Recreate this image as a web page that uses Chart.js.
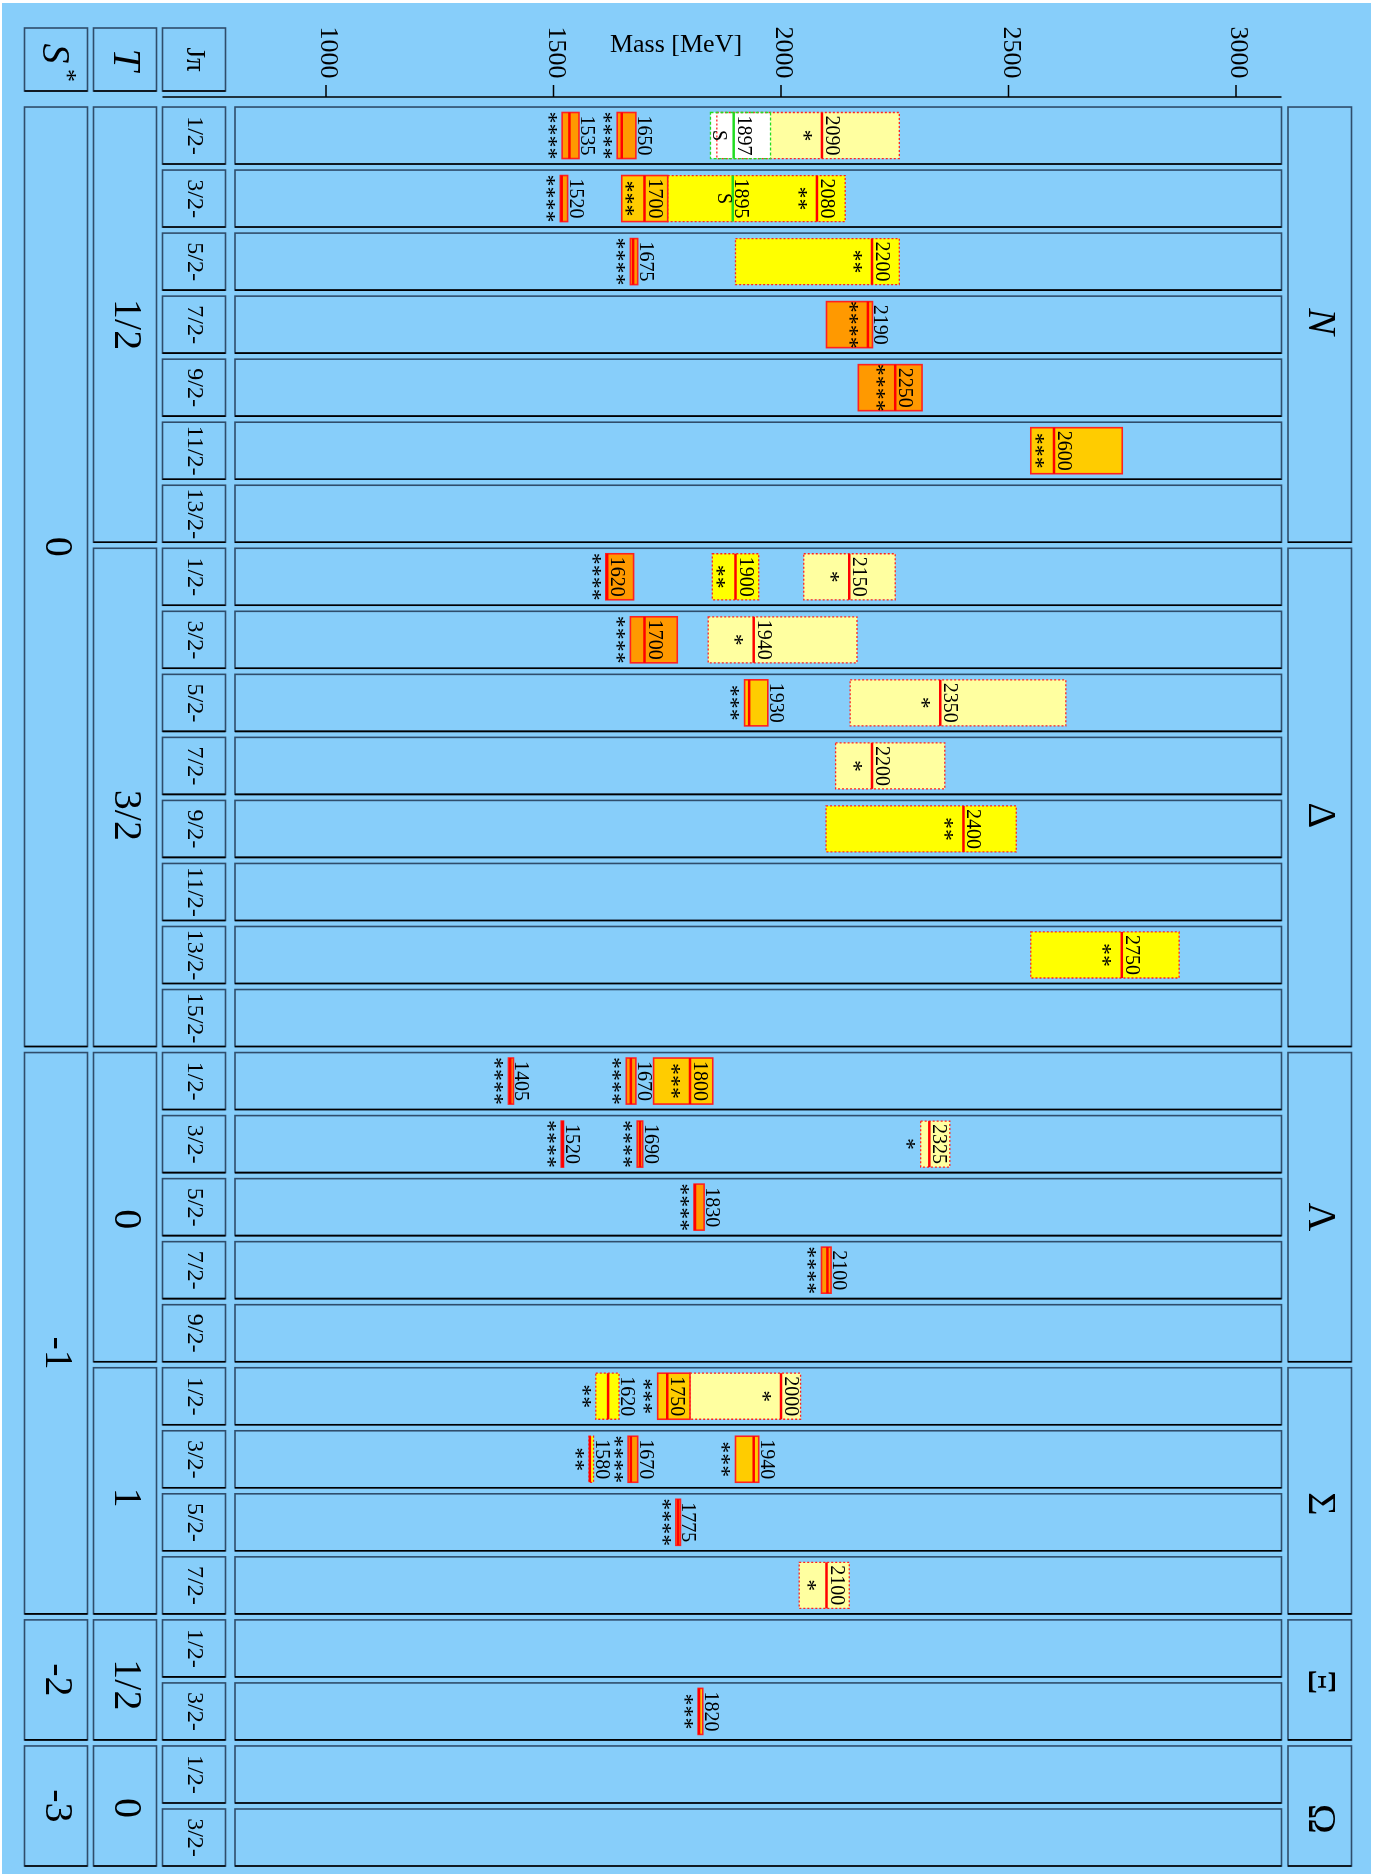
<!DOCTYPE html>
<html>
<head>
<meta charset="utf-8">
<script src="https://cdn.jsdelivr.net/npm/chart.js@4.4.1/dist/chart.umd.min.js"></script>
<style>
  html, body { margin: 0; padding: 0; background: #fff; }
  canvas { display: block; }
</style>
</head>
<body>
<canvas id="chart" width="1378" height="1874"></canvas>
<script>
// rows, top to bottom
const jpLabels = ['1/2-', '3/2-', '5/2-', '7/2-', '9/2-', '11/2-', '13/2-',
  '1/2-', '3/2-', '5/2-', '7/2-', '9/2-', '11/2-', '13/2-', '15/2-',
  '1/2-', '3/2-', '5/2-', '7/2-', '9/2-',
  '1/2-', '3/2-', '5/2-', '7/2-',
  '1/2-', '3/2-',
  '1/2-', '3/2-'];
const families = ['N', 'Δ', 'Λ', 'Σ', 'Ξ', 'Ω'];
const familyRows = [7, 8, 5, 4, 2, 2];
const isospin = ['1/2', '3/2', '0', '1', '1/2', '0'];
const strangeness = ['0', '-1', '-2', '-3'];
const strangenessRows = [15, 9, 2, 2];
const massTicks = [1000, 1500, 2000, 2500, 3000];

// resonances (row index, name, mass range, peak, rating)
const resRow = [0, 0, 0, 0, 1, 1, 1, 1, 2, 2, 3, 4, 5,
  7, 7, 7, 8, 8, 9, 9, 10, 11, 13,
  15, 15, 15, 16, 16, 16, 17, 18,
  20, 20, 20, 21, 21, 21, 22, 23, 25];
const resName = [1535, 1650, 2090, 1897, 1520, 2080, 1700, 1895, 1675, 2200, 2190, 2250, 2600,
  1620, 1900, 2150, 1700, 1940, 1930, 2350, 2200, 2400, 2750,
  1405, 1670, 1800, 1520, 1690, 2325, 1830, 2100,
  1620, 2000, 1750, 1580, 1670, 1940, 1775, 2100, 1820];
const resLow = [1519, 1640, 1859, 1845, 1515, 1751, 1650, 1894, 1669, 1900, 2100, 2170, 2549,
  1615, 1849, 2050, 1669, 1840, 1920, 2152, 2120, 2099, 2549,
  1401, 1660, 1720, 1517, 1684, 2307, 1809, 2089,
  1593, 1800, 1729, 1578, 1664, 1900, 1769, 2040, 1818];
const resHigh = [1556, 1681, 2260, 1977, 1531, 2141, 1751, 1894, 1685, 2260, 2201, 2310, 2750,
  1676, 1951, 2251, 1772, 2167, 1971, 2626, 2360, 2517, 2875,
  1412, 1681, 1850, 1522, 1696, 2371, 1831, 2110,
  1644, 2043, 1800, 1588, 1685, 1951, 1779, 2150, 1828];
const resPeak = [1535, 1650, 2090, 1896, 1518, 2079, 1700, 1894, 1675, 2200, 2191, 2251, 2600,
  1618, 1900, 2150, 1700, 1940, 1930, 2350, 2200, 2401, 2749,
  1405, 1670, 1800, 1520, 1690, 2326, 1811, 2102,
  1620, 2000, 1750, 1580, 1670, 1940, 1774, 2100, 1820];
const resRating = ['****', '****', '*', 'S', '****', '**', '***', 'S', '****', '**', '****', '****', '***',
  '****', '**', '*', '****', '*', '***', '*', '*', '**', '**',
  '****', '****', '***', '****', '****', '*', '****', '****',
  '**', '*', '***', '**', '****', '***', '****', '*', '***'];

const SERIF = '"Liberation Serif", "DejaVu Serif", serif';
const FILLS = { '****': '#ff9900', '***': '#ffcc00', '**': '#ffff00', '*': '#ffffa0', 'S': '#ffffff' };
// small vertical nudges of the group labels, as in the original figure
const shiftS = [-30, 20, 0, 0];
const shiftT = [0, 18, 12, 7, 5, 2];
const shiftF = [-3, 18, 10, 13, 2, 13];

// unique category id per row
const rowIds = [];
families.forEach((f, k) => {
  const start = familyRows.slice(0, k).reduce((a, b) => a + b, 0);
  for (let i = 0; i < familyRows[k]; i++) rowIds.push(f + ' ' + jpLabels[start + i]);
});

function vText(ctx, str, x, y, size, style, baseline, align) {
  ctx.save();
  ctx.translate(x, y);
  ctx.rotate(Math.PI / 2);
  ctx.font = (style || '') + ' ' + size + 'px ' + SERIF;
  ctx.textAlign = align || 'center';
  ctx.textBaseline = baseline || 'middle';
  ctx.fillStyle = '#000';
  ctx.fillText(str, 0, 0);
  ctx.restore();
}

function frameBox(ctx, x0, y0, x1, y1) {
  ctx.save();
  ctx.lineWidth = 1.6;
  ctx.strokeStyle = '#2f4d6b';
  ctx.strokeRect(x0, y0, x1 - x0, y1 - y0);
  ctx.strokeStyle = '#000';
  ctx.beginPath();
  ctx.moveTo(x0, y1); ctx.lineTo(x1, y1);
  ctx.stroke();
  ctx.restore();
}

const framePlugin = {
  id: 'frame',
  beforeDraw(chart) {
    const { ctx, chartArea: ca, scales: { x, y } } = chart;
    ctx.save();
    ctx.fillStyle = '#ffffff';
    ctx.fillRect(0, 0, chart.width, chart.height);
    ctx.fillStyle = '#87cefa';
    ctx.fillRect(2, 3, 1369, 1871);

    const pitch = y.getPixelForValue(1) - y.getPixelForValue(0);
    const half = pitch * 0.452;
    const rowTop = i => y.getPixelForValue(i) - half;
    const rowBot = i => y.getPixelForValue(i) + half;
    const colS = [24.5, 87.5], colT = [93.5, 156.5], colJ = [162.5, 225.5];
    const colF = [ca.right + 6.5, ca.right + 70];
    const mid = c => (c[0] + c[1]) / 2;

    // header boxes
    const hTop = 28, hBot = 91, hMid = (hTop + hBot) / 2;
    frameBox(ctx, colS[0], hTop, colS[1], hBot);
    frameBox(ctx, colT[0], hTop, colT[1], hBot);
    frameBox(ctx, colJ[0], hTop, colJ[1], hBot);
    vText(ctx, 'S', mid(colS) - 2, hMid - 6, 40, 'italic');
    vText(ctx, '*', mid(colS) + 10, hMid + 16, 26);
    vText(ctx, 'T', mid(colT), hMid, 40, 'italic');
    vText(ctx, 'Jπ', mid(colJ), hMid, 27);

    // rows
    jpLabels.forEach((jp, i) => {
      frameBox(ctx, colJ[0], rowTop(i), colJ[1], rowBot(i));
      vText(ctx, jp, mid(colJ), y.getPixelForValue(i), 24);
      frameBox(ctx, ca.left, rowTop(i), ca.right, rowBot(i));
    });

    // isospin and family groups
    let start = 0;
    families.forEach((f, k) => {
      const end = start + familyRows[k] - 1;
      const t = rowTop(start), b = rowBot(end);
      frameBox(ctx, colT[0], t, colT[1], b);
      vText(ctx, isospin[k], mid(colT), (t + b) / 2 + shiftT[k], 40);
      frameBox(ctx, colF[0], t, colF[1], b);
      vText(ctx, f, mid(colF), (t + b) / 2 + shiftF[k], 40, f === 'N' ? 'italic' : '');
      start = end + 1;
    });

    // strangeness groups
    start = 0;
    strangeness.forEach((s, k) => {
      const end = start + strangenessRows[k] - 1;
      const t = rowTop(start), b = rowBot(end);
      frameBox(ctx, colS[0], t, colS[1], b);
      vText(ctx, s, mid(colS), (t + b) / 2 + shiftS[k], 40);
      start = end + 1;
    });

    // mass axis on top
    const axisY = ca.top - 7;
    ctx.strokeStyle = '#000';
    ctx.lineWidth = 1.5;
    ctx.beginPath();
    ctx.moveTo(colJ[0], axisY);
    ctx.lineTo(ca.right, axisY);
    massTicks.forEach(t => {
      const px = x.getPixelForValue(t);
      ctx.moveTo(px, axisY - 12);
      ctx.lineTo(px, axisY);
    });
    ctx.stroke();
    massTicks.forEach(t => vText(ctx, String(t), x.getPixelForValue(t) + 2, 52.5, 26));
    ctx.font = '26px ' + SERIF;
    ctx.fillStyle = '#000';
    ctx.textAlign = 'center';
    ctx.textBaseline = 'middle';
    ctx.fillText('Mass [MeV]', 676, 45);
    ctx.restore();
  },
  afterDatasetsDraw(chart) {
    const { ctx, scales: { x } } = chart;
    const meta = chart.getDatasetMeta(0);
    ctx.save();
    meta.data.forEach((bar, i) => {
      const p = bar.getProps(['x', 'y', 'base', 'height'], true);
      const left = Math.min(p.x, p.base), right = Math.max(p.x, p.base);
      const top = p.y - p.height / 2, bottom = p.y + p.height / 2;
      const rating = resRating[i];
      const isS = rating === 'S';
      const solid = rating.length >= 3;
      if (right - left > 1) {
        ctx.lineWidth = solid ? 1.6 : 1.3;
        ctx.strokeStyle = isS ? '#22dd22' : '#ff2020';
        ctx.setLineDash(solid ? [] : (isS ? [3, 2] : [2, 2]));
        ctx.strokeRect(left, top, right - left, bottom - top);
      }
      ctx.setLineDash([]);
      const px = x.getPixelForValue(resPeak[i]);
      ctx.strokeStyle = isS ? '#22dd22' : '#ff0000';
      ctx.lineWidth = 2.5;
      ctx.beginPath();
      ctx.moveTo(px, top);
      ctx.lineTo(px, bottom);
      ctx.stroke();

      // mass label right of the peak line, or right of a narrow box
      const lx = right - px >= 19 ? px + 4 : right + 2;
      vText(ctx, String(resName[i]), lx, p.y, 20, '', 'alphabetic');

      // rating left of the peak line, or left of a narrow box
      const sc = px - left >= 20 ? px - 15 : left - 10;
      if (isS) vText(ctx, 'S', sc, p.y, 20);
      else vText(ctx, rating, sc - 4, p.y, 24);
    });
    ctx.restore();
  }
};

new Chart(document.getElementById('chart'), {
  type: 'bar',
  data: {
    labels: rowIds,
    datasets: [{
      data: resRow.map((r, i) => ({ y: rowIds[r], x: [resLow[i], resHigh[i]] })),
      backgroundColor: resRating.map(r => FILLS[r]),
      borderWidth: 0,
      categoryPercentage: 1,
      barPercentage: 0.73
    }]
  },
  options: {
    indexAxis: 'y',
    responsive: false,
    animation: false,
    layout: { padding: { left: 235, right: 96.5, top: 104, bottom: 5 } },
    scales: {
      x: { type: 'linear', min: 800, max: 3100, display: false },
      y: { type: 'category', offset: true, display: false }
    },
    plugins: {
      legend: { display: false },
      tooltip: { enabled: false }
    }
  },
  plugins: [framePlugin]
});
</script>
</body>
</html>
